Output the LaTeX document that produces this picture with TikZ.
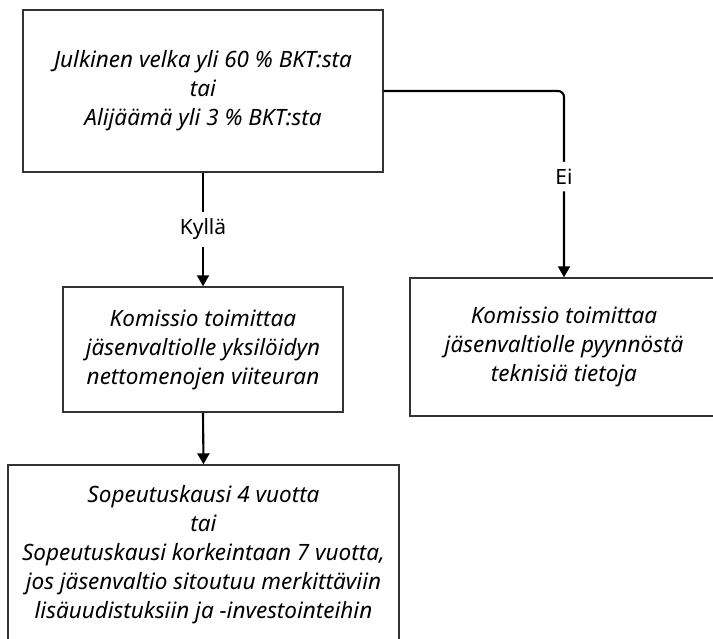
\documentclass[tikz,border=0pt]{standalone}
\usepackage{fontspec}
\setmainfont{Noto Sans}
\usetikzlibrary{arrows.meta}
\begin{document}
\begin{tikzpicture}[x=1pt,y=-1pt,
  box/.style={draw=black!80,line width=1.4pt,align=center,font=\fontsize{22.5}{29}\selectfont\itshape,inner sep=0pt},
  conn/.style={draw=black,line width=2.1pt,-{Triangle[width=12pt,length=11pt]}},
  lbl/.style={fill=white,font=\fontsize{21}{25}\selectfont,inner sep=7pt}]
\clip (0,0) rectangle (713,639);
\fill[white] (0,0) rectangle (713,639);
\node[box,minimum width=360pt,minimum height=162pt] (b1) at (203,91)
  {Julkinen velka yli 60 \% BKT:sta\\tai\\Alijäämä yli 3 \% BKT:sta};
\node[box,minimum width=280pt,minimum height=125pt] (b2) at (203,349.5)
  {Komissio toimittaa\\jäsenvaltiolle yksilöidyn\\nettomenojen viiteuran};
\node[box,minimum width=308pt,minimum height=138pt] (b3) at (564,347)
  {Komissio toimittaa\\jäsenvaltiolle pyynnöstä\\teknisiä tietoja};
\node[box,minimum width=391pt,minimum height=180pt] (b4) at (203.5,555)
  {Sopeutuskausi 4 vuotta\\tai\\Sopeutuskausi korkeintaan 7 vuotta,\\jos jäsenvaltio sitoutuu merkittäviin\\lisäuudistuksiin ja -investointeihin};
\draw[conn] (b1.south) -- node[lbl,midway] (ky) {Kyllä} (b2.north);
\draw[conn,rounded corners=6pt] (b1.east) -| node[lbl,pos=0.73] (ei) {Ei} (b3.north);
\draw[conn] (b2.south) -- (b4.north);
\end{tikzpicture}
\end{document}
